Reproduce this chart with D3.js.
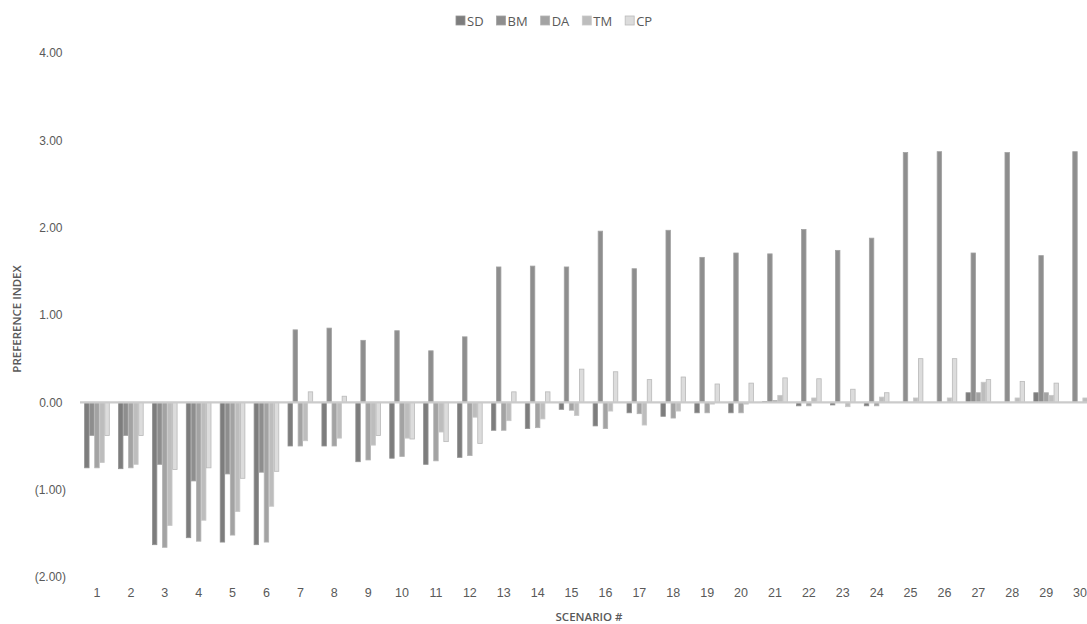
<!DOCTYPE html>
<html>
<head>
<meta charset="utf-8">
<script src="https://cdn.jsdelivr.net/npm/d3@7"></script>
<style>
  html, body { margin: 0; padding: 0; background: #fff; overflow: hidden; }
  svg { display: block; font-family: "Open Sans", Arial, sans-serif; }
  text { fill: #595959; }
</style>
</head>
<body>
<svg id="chart" width="1087" height="624"></svg>
<script>
// Scenario numbers along the x axis
const scenarios = d3.range(1, 31).map(String);

// Series names in legend order
const seriesNames = ["SD", "BM", "DA", "TM", "CP"];

// Preference index per scenario, one array per series
const SD = [-0.75, -0.76, -1.63, -1.55, -1.60, -1.63, -0.50, -0.50, -0.68, -0.64,
            -0.71, -0.63, -0.32, -0.30, -0.08, -0.27, -0.12, -0.16, -0.12, -0.12,
             0.01, -0.04, -0.03, -0.04,  0.00,  0.00,  0.11,  0.00,  0.11,  0.00];
const BM = [-0.38, -0.38, -0.71, -0.90, -0.82, -0.80,  0.83,  0.85,  0.71,  0.82,
             0.59,  0.75,  1.55,  1.56,  1.55,  1.96,  1.53,  1.97,  1.66,  1.71,
             1.70,  1.98,  1.74,  1.88,  2.86,  2.87,  1.71,  2.86,  1.68,  2.87];
const DA = [-0.75, -0.75, -1.66, -1.59, -1.52, -1.60, -0.50, -0.50, -0.66, -0.62,
            -0.67, -0.61, -0.32, -0.29, -0.09, -0.30, -0.13, -0.18, -0.12, -0.12,
             0.02, -0.04,  0.00, -0.04,  0.00,  0.00,  0.11,  0.00,  0.11,  0.00];
const TM = [-0.69, -0.71, -1.41, -1.35, -1.25, -1.19, -0.44, -0.41, -0.49, -0.41,
            -0.34, -0.17, -0.21, -0.19, -0.15, -0.10, -0.26, -0.10, -0.02, -0.02,
             0.08,  0.05, -0.05,  0.06,  0.05,  0.05,  0.23,  0.05,  0.08,  0.05];
const CP = [-0.38, -0.38, -0.77, -0.75, -0.87, -0.79,  0.12,  0.07, -0.38, -0.42,
            -0.45, -0.47,  0.12,  0.12,  0.38,  0.35,  0.26,  0.29,  0.21,  0.22,
             0.28,  0.27,  0.15,  0.11,  0.50,  0.50,  0.26,  0.24,  0.22,  0.22];

// Y axis tick values
const yTicks = [-2, -1, 0, 1, 2, 3, 4];

const seriesValues = { SD, BM, DA, TM, CP };
const fills   = { SD: "#7d7d7d", BM: "#8e8e8e", DA: "#a3a3a3", TM: "#bdbdbd", CP: "#dcdcdc" };
const strokes = { SD: "#939393", BM: "#a2a2a2", DA: "#b3b3b3", TM: "#c9c9c9", CP: "#b9b9b9" };

const svg = d3.select("#chart");

// The category axis runs past the right edge of the drawing area
const x = d3.scaleBand().domain(scenarios).range([80, 1097]).paddingInner(0.254).paddingOuter(0.127);
const xs = d3.scaleBand().domain(seriesNames).range([0, x.bandwidth()]).padding(0);
const y = d3.scaleLinear().domain([-2, 4]).range([577, 53]);

const fmt = v => {
  const s = d3.format(".2f")(Math.abs(v));
  return v < 0 ? "(" + s + ")" : s;
};

// Bars
const rows = scenarios.map((s, i) => ({ s, vals: seriesNames.map(k => ({ k, v: seriesValues[k][i] })) }));
const groups = svg.append("g").selectAll("g").data(rows).join("g")
  .attr("transform", d => `translate(${x(d.s)},0)`);
groups.selectAll("rect").data(d => d.vals).join("rect")
  .attr("x", d => xs(d.k) + 0.3)
  .attr("width", xs.bandwidth() - 0.6)
  .attr("y", d => Math.min(y(d.v), y(0)))
  .attr("height", d => Math.abs(y(d.v) - y(0)))
  .attr("fill", d => fills[d.k])
  .attr("stroke", d => strokes[d.k])
  .attr("stroke-width", 0.8);

// Zero line
svg.append("line")
  .attr("x1", 80).attr("x2", 1097)
  .attr("y1", y(0)).attr("y2", y(0))
  .attr("stroke", "#cbcbcb").attr("stroke-width", 2.2);

// Y axis labels
const yAxis = d3.axisLeft(y).tickValues(yTicks).tickFormat(fmt).tickSize(0).tickPadding(0);
const yg = svg.append("g").attr("transform", "translate(66,0)").call(yAxis);
yg.select(".domain").remove();
yg.selectAll("text")
  .attr("font-size", 12).attr("fill", "#595959")
  .attr("font-family", null)
  .attr("dx", d => d < 0 ? 0 : -3.5);

// X axis labels
const xAxis = d3.axisBottom(x).tickSize(0).tickPadding(0);
const xg = svg.append("g").attr("transform", "translate(0,588)").call(xAxis);
xg.select(".domain").remove();
xg.selectAll("text").attr("font-size", 12.5).attr("fill", "#595959").attr("font-family", null);

// Axis titles
svg.append("text")
  .attr("transform", "translate(21,319) rotate(-90)")
  .attr("text-anchor", "middle")
  .attr("font-size", 11.5).attr("font-weight", 600)
  .text("PREFERENCE INDEX");
svg.append("text")
  .attr("x", 589).attr("y", 621)
  .attr("text-anchor", "middle")
  .attr("font-size", 11.5).attr("font-weight", 600)
  .text("SCENARIO #");

// Legend
const legend = svg.append("g");
let lx = 456;
seriesNames.forEach(k => {
  const g = legend.append("g").attr("transform", `translate(${lx},0)`);
  g.append("rect").attr("x", 0).attr("y", 16).attr("width", 9).attr("height", 9)
    .attr("fill", fills[k]).attr("stroke", strokes[k]).attr("stroke-width", 0.8);
  const t = g.append("text").attr("x", 11).attr("y", 25.5)
    .attr("font-size", 13).text(k);
  lx += 11 + t.node().getComputedTextLength() + 13;
});
</script>
</body>
</html>
